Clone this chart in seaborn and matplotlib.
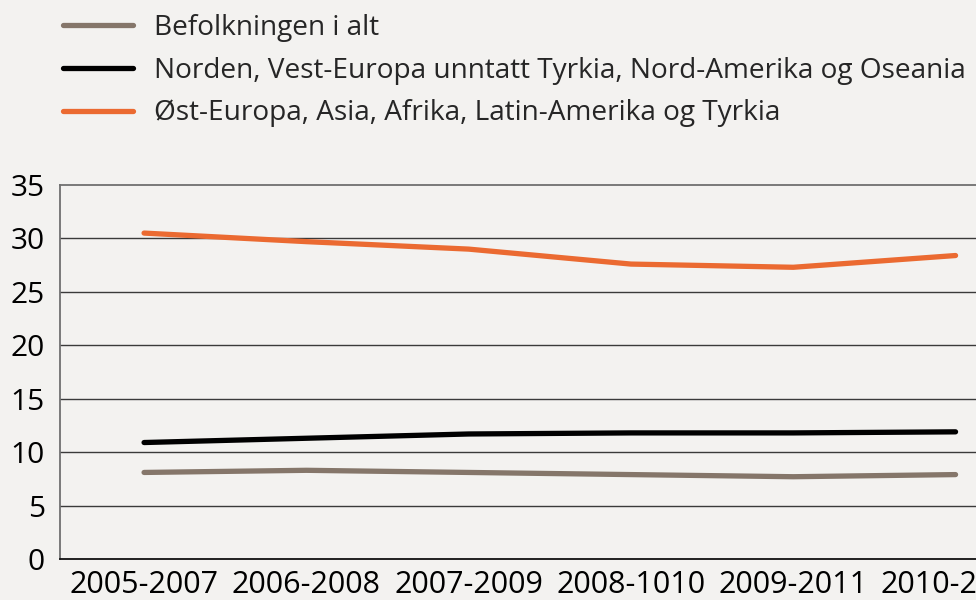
import matplotlib
matplotlib.use("Agg")
import matplotlib.pyplot as plt
import seaborn as sns
import pandas as pd
import numpy as np

periods = ["2005-2007", "2006-2008", "2007-2009", "2008-1010", "2009-2011", "2010-2012"]
series_names = [
    "Befolkningen i alt",
    "Norden, Vest-Europa unntatt Tyrkia, Nord-Amerika og Oseania",
    "Øst-Europa, Asia, Afrika, Latin-Amerika og Tyrkia",
]
befolkningen = [8.1, 8.3, 8.1, 7.9, 7.7, 7.9]
norden_vest = [10.9, 11.3, 11.7, 11.8, 11.8, 11.9]
ost_europa = [30.5, 29.7, 29.0, 27.6, 27.3, 28.4]
colors = ["#85766a", "#000000", "#eb6a31"]

df = pd.concat([
    pd.DataFrame({"periode": range(len(periods)), "verdi": vals, "gruppe": name})
    for name, vals in zip(series_names, [befolkningen, norden_vest, ost_europa])
])

BG = "#f3f2f0"
sns.set_style("white")
plt.rcParams["font.family"] = ["Open Sans", "DejaVu Sans"]

fig = plt.figure(figsize=(9.76, 6.0), dpi=100, facecolor=BG)
ax = fig.add_axes([60 / 976, 41 / 600, 916 / 976, 374 / 600])
ax.set_facecolor(BG)

sns.lineplot(data=df, x="periode", y="verdi", hue="gruppe", hue_order=series_names,
             palette=colors, linewidth=3.8, ax=ax, legend=True)
for line in ax.get_lines():
    line.set_solid_capstyle("round")
    line.set_solid_joinstyle("round")

ax.set_ylim(0, 35)
ax.set_xlim(-0.518, 5.126)
ax.set_yticks(range(0, 36, 5))
ax.set_xticks(range(len(periods)))
ax.set_xticklabels(periods)
ax.set_xticks(np.arange(0.5, 5, 1), minor=True)
ax.tick_params(axis="x", which="major", length=0, pad=8, labelsize=22, colors="#000000")
ax.tick_params(axis="x", which="minor", direction="in", length=6.5, width=1.0, color="#222222")
ax.tick_params(axis="y", length=0, pad=11, labelsize=21.5, colors="#000000")
ax.set_xlabel("")
ax.set_ylabel("")

for y in range(5, 35, 5):
    ax.axhline(y, color="#3a3a3a", linewidth=1.0, zorder=0)

for side in ["top", "left"]:
    ax.spines[side].set_color("#707070")
    ax.spines[side].set_linewidth(1.3)
ax.spines["right"].set_visible(False)
ax.spines["bottom"].set_color("#111111")
ax.spines["bottom"].set_linewidth(1.3)

handles, labels = ax.get_legend_handles_labels()
ax.legend(handles, labels, loc="upper left", bbox_to_anchor=(52 / 976, 1.0 - 3 / 600),
          bbox_transform=fig.transFigure, frameon=False, fontsize=20.2,
          handlelength=2.5, handletextpad=0.75, labelspacing=0.52, borderaxespad=0)

fig.savefig("out.png", dpi=100, facecolor=BG)
